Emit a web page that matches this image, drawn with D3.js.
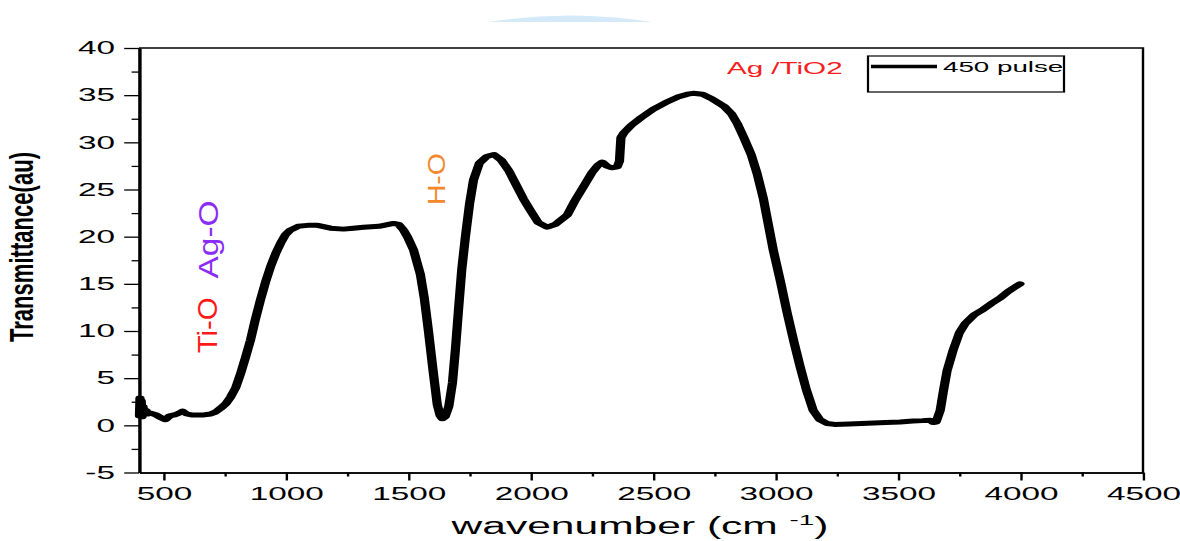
<!DOCTYPE html>
<html><head><meta charset="utf-8">
<script src="https://cdn.jsdelivr.net/npm/d3@7"></script>
<style>html,body{margin:0;padding:0;background:#fff;} svg{display:block;}</style>
</head><body>
<svg id="chart" width="1180" height="541"></svg>
<script>
// ---- data ----
const wavenumber = [402,404,406,409,412,416,420,428,436,447,470,490,508,525,545,565,578,595,615,638,665,692,712,733,755,774,795,815,835,855,875,896,917,937,958,978,998,1018,1050,1088,1130,1182,1235,1275,1317,1380,1439,1460,1480,1496,1521,1549,1565,1582,1600,1618,1630,1639,1650,1665,1680,1692,1704,1718,1733,1750,1766,1790,1820,1850,1880,1910,1940,1970,1998,2030,2067,2100,2149,2180,2215,2250,2275,2292,2310,2330,2353,2362,2368,2380,2410,2450,2500,2550,2600,2640,2663,2700,2740,2790,2820,2843,2870,2900,2924,2950,2970,2990,3020,3047,3075,3100,3125,3153,3180,3210,3240,3300,3350,3400,3450,3508,3560,3600,3630,3643,3655,3672,3686,3700,3725,3750,3774,3810,3848,3880,3917,3950,3980,3998];
const transmittance = [1.0,2.9,1.2,2.6,0.9,2.0,1.3,1.6,1.2,1.3,1.1,0.8,0.6,1.0,1.1,1.3,1.5,1.2,1.1,1.1,1.1,1.2,1.4,1.8,2.3,3.0,4.0,5.5,7.2,9.0,11.2,13.3,15.2,16.8,18.2,19.3,20.2,20.7,21.1,21.2,21.2,20.9,20.8,20.9,21.0,21.1,21.4,21.3,20.7,20.0,18.6,16.0,13.5,10.0,6.0,2.2,1.0,0.7,0.9,2.0,4.5,8.0,12.0,16.5,20.0,23.5,26.0,27.8,28.5,28.7,28.1,27.0,25.5,24.0,22.8,21.5,21.0,21.3,22.3,23.8,25.3,26.8,27.6,27.9,27.5,27.3,27.4,28.0,30.5,31.0,31.8,32.6,33.5,34.2,34.8,35.1,35.2,35.1,34.6,33.8,33.0,32.0,30.5,28.7,26.7,24.0,21.3,18.6,15.2,11.9,8.8,6.2,3.8,1.6,0.6,0.2,0.1,0.15,0.2,0.25,0.3,0.35,0.45,0.5,0.55,0.3,0.35,1.6,3.8,5.8,8.0,9.8,10.8,11.7,12.3,12.9,13.5,14.2,14.7,15.0];
const xTicks = [500,1000,1500,2000,2500,3000,3500,4000,4500];
const xMinorTicks = [750,1250,1750,2250,2750,3250,3750,4250];
const yTicks = [-5,0,5,10,15,20,25,30,35,40];
const yMinorTicks = [-2.5,2.5,7.5,12.5,17.5,22.5,27.5,32.5,37.5];
const seriesName = "450 pulse";
const sampleLabel = "Ag /TiO2";
const bandLabels = ["Ti-O", "Ag-O", "H-O"];
const bandWavenumbers = [718, 722, 1650];
const bandValues = [10.6, 19.7, 26.1];
const xTitle = "wavenumber (cm ";
const xTitleSup = "-1";
const yTitle = "Transmittance(au)";

// ---- drawing ----
const SX = 1.85; // the reference is stretched horizontally
const FONT = "'Liberation Sans', Arial, sans-serif";
const svg = d3.select("#chart");

// faint blue artifact at top
svg.append("path").attr("d", "M488,22 Q570,9 652,22 Z").attr("fill", "#d5eaf9");

const g = svg.append("g").attr("transform", `scale(${SX},1)`);
const x = d3.scaleLinear().domain([400, 4500]).range([139 / SX, 1143 / SX]);
const y = d3.scaleLinear().domain([-5, 40]).range([472.5, 48]);

// frame (top & right)
g.append("path")
  .attr("d", `M${x(400)},${y(40)}H${x(4500)}V${y(-5)}`)
  .attr("fill", "none").attr("stroke", "#000").attr("stroke-width", 1.3);

function styleAxis(sel) {
  sel.attr("font-family", FONT).attr("font-size", 18);
  sel.selectAll(".tick line").attr("stroke", "#000").attr("stroke-width", 1.3);
  sel.selectAll(".tick text").attr("fill", "#000");
  sel.select(".domain").attr("stroke", "#000").attr("stroke-width", 1.6);
}

// minor ticks
g.append("g").attr("transform", `translate(0,${y(-5)})`)
  .call(d3.axisBottom(x).tickValues(xMinorTicks).tickSize(4).tickSizeOuter(0).tickFormat(""))
  .call(styleAxis);
g.append("g").attr("transform", `translate(${x(400)},0)`)
  .call(d3.axisLeft(y).tickValues(yMinorTicks).tickSize(4).tickSizeOuter(0).tickFormat(""))
  .call(styleAxis);

// major axes
g.append("g").attr("transform", `translate(0,${y(-5)})`)
  .call(d3.axisBottom(x).tickValues(xTicks).tickSize(8).tickPadding(7).tickSizeOuter(0).tickFormat(d3.format("d")))
  .call(styleAxis);
g.append("g").attr("transform", `translate(${x(400)},0)`)
  .call(d3.axisLeft(y).tickValues(yTicks).tickSize(8).tickPadding(5).tickSizeOuter(0).tickFormat(d => d < 0 ? "-" + Math.abs(d) : d))
  .call(styleAxis);

// series line
const data = wavenumber.map((w, i) => [w, transmittance[i]]);
g.append("path").datum(data)
  .attr("d", d3.line().x(d => x(d[0])).y(d => y(d[1])))
  .attr("fill", "none").attr("stroke", "#000").attr("stroke-width", 5)
  .attr("stroke-linejoin", "round").attr("stroke-linecap", "round");

// axis titles
const xt = g.append("text").attr("x", 640 / SX).attr("y", 534)
  .attr("text-anchor", "middle").attr("font-family", FONT).attr("font-size", 23).attr("fill", "#000");
xt.append("tspan").text(xTitle);
xt.append("tspan").attr("font-size", 15).attr("dy", -9).text(xTitleSup);
xt.append("tspan").attr("dy", 9).text(")");

g.append("text").attr("transform", `translate(${33 / SX},247) rotate(-90)`)
  .attr("text-anchor", "middle").attr("font-family", FONT).attr("font-size", 18).attr("font-weight", "bold")
  .attr("textLength", 190).attr("lengthAdjust", "spacingAndGlyphs").attr("fill", "#000")
  .text(yTitle);

// band annotations
const bandColors = ["#ff1a1a", "#8a2cf5", "#f2882a"];
const bandLengths = [56, 78, 52];
const bandSizes = [15, 15, 13];
bandLabels.forEach((lab, i) => {
  g.append("text")
    .attr("transform", `translate(${x(bandWavenumbers[i])},${y(bandValues[i])}) rotate(-90)`)
    .attr("text-anchor", "middle").attr("font-family", FONT).attr("font-size", bandSizes[i])
    .attr("textLength", bandLengths[i]).attr("lengthAdjust", "spacingAndGlyphs")
    .attr("fill", bandColors[i]).text(lab);
});

// sample label
g.append("text").attr("x", x(2801)).attr("y", y(37.2))
  .attr("font-family", FONT).attr("font-size", 16).attr("fill", "#f52020").text(sampleLabel);

// legend
const lg = g.append("g");
lg.append("rect").attr("x", 868 / SX).attr("y", 56).attr("width", (1064 - 868) / SX).attr("height", 36)
  .attr("fill", "#fff").attr("stroke", "#000").attr("stroke-width", 1.2);
lg.append("line").attr("x1", 871 / SX).attr("x2", 937 / SX).attr("y1", 66.5).attr("y2", 66.5)
  .attr("stroke", "#000").attr("stroke-width", 3.5);
lg.append("text").attr("x", 943 / SX).attr("y", 72).attr("font-family", FONT).attr("font-size", 15)
  .attr("fill", "#000").text(seriesName);
</script>
</body></html>
